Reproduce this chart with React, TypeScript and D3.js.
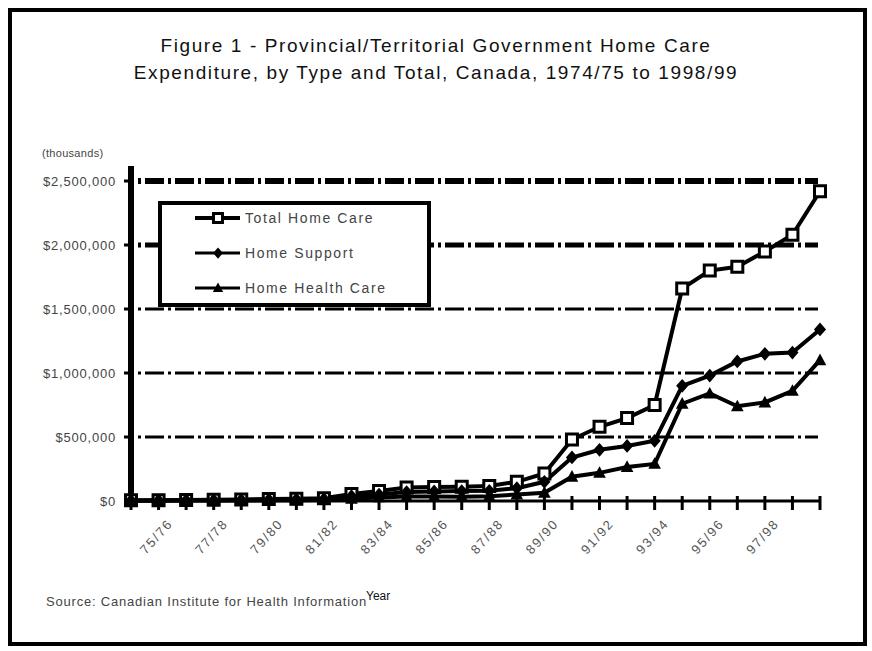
import React from "react";
import * as d3 from "d3";

// Fiscal years on the category axis (one tick per year)
const years = [
  "74/75", "75/76", "76/77", "77/78", "78/79", "79/80", "80/81", "81/82", "82/83",
  "83/84", "84/85", "85/86", "86/87", "87/88", "88/89", "89/90", "90/91", "91/92",
  "92/93", "93/94", "94/95", "95/96", "96/97", "97/98", "98/99", "99/00",
];
// Labels shown under the axis (every second year)
const yearLabels = [
  "75/76", "77/78", "79/80", "81/82", "83/84", "85/86",
  "87/88", "89/90", "91/92", "93/94", "95/96", "97/98",
];

// Expenditure, $ thousands
const totalHomeCare = [
  5, 6, 8, 10, 12, 15, 18, 22, 55, 78, 105, 110, 112, 118, 150,
  215, 480, 580, 648, 750, 1660, 1800, 1830, 1950, 2080, 2420,
];
const homeSupport = [
  3, 4, 5, 6, 8, 10, 12, 15, 38, 50, 70, 75, 78, 80, 100,
  150, 340, 400, 430, 470, 900, 980, 1090, 1150, 1160, 1340,
];
const homeHealthCare = [
  2, 2, 3, 4, 4, 5, 6, 7, 17, 28, 35, 35, 34, 38, 50,
  65, 190, 220, 266, 290, 760, 840, 740, 770, 860, 1100,
];

const yTicks = [0, 500, 1000, 1500, 2000, 2500];
const yTickLabels = ["$0", "$500,000", "$1,000,000", "$1,500,000", "$2,000,000", "$2,500,000"];
const gridWidths = [0, 3, 3, 3, 5, 6];

const W = 872;
const H = 651;
const FONT = "'Liberation Sans', Arial, sans-serif";

type Marker = "square" | "diamond" | "triangle";

function markerPath(kind: Marker, size: number): string {
  const s = size / 2;
  if (kind === "diamond") return `M0,${-s * 1.25}L${s * 1.1},0L0,${s * 1.25}L${-s * 1.1},0Z`;
  if (kind === "triangle") return `M0,${-s * 1.2}L${s * 1.15},${s * 0.9}L${-s * 1.15},${s * 0.9}Z`;
  return `M${-s},${-s}H${s}V${s}H${-s}Z`;
}

function MarkerShape({ kind, x, y, size }: { kind: Marker; x: number; y: number; size: number }) {
  if (kind === "square") {
    return (
      <path
        d={markerPath(kind, size)}
        transform={`translate(${x},${y})`}
        fill="#fff"
        stroke="#000"
        strokeWidth={3}
      />
    );
  }
  return <path d={markerPath(kind, size)} transform={`translate(${x},${y})`} fill="#000" />;
}

export default function App() {
  const x = d3.scalePoint<string>().domain(years).range([131, 820]);
  const y = d3.scaleLinear().domain([0, 2500]).range([501, 181]);

  // drawn in this order: total first, the filled markers on top of it
  const series: { name: string; values: number[]; marker: Marker }[] = [
    { name: "Total Home Care", values: totalHomeCare, marker: "square" },
    { name: "Home Support", values: homeSupport, marker: "diamond" },
    { name: "Home Health Care", values: homeHealthCare, marker: "triangle" },
  ];

  const line = d3
    .line<number>()
    .x((_, i) => x(years[i]) as number)
    .y((d) => y(d));

  const labelIdx = yearLabels.map((l) => years.indexOf(l));

  return (
    <svg
      width={W}
      height={H}
      style={{ position: "absolute", left: 0, top: 0, background: "#fff" }}
      fontFamily={FONT}
    >
      <rect x={0} y={0} width={W} height={H} fill="#fff" />
      <rect x={10} y={10} width={855} height={634} fill="none" stroke="#000" strokeWidth={4} />

      {/* Title */}
      <text x={436} y={52} textAnchor="middle" fontSize={19} letterSpacing={1.6} fill="#111">
        Figure 1  - Provincial/Territorial Government Home Care
      </text>
      <text x={436} y={79} textAnchor="middle" fontSize={19} letterSpacing={1.6} fill="#111">
        Expenditure, by Type and Total, Canada, 1974/75 to 1998/99
      </text>

      <text x={42} y={157} fontSize={11} letterSpacing={0.3} fill="#444">(thousands)</text>

      {/* Gridlines */}
      {yTicks.slice(1).map((t, i) => (
        <line
          key={t}
          x1={138}
          x2={818}
          y1={y(t)}
          y2={y(t)}
          stroke="#000"
          strokeWidth={gridWidths[i + 1]}
          strokeDasharray="3,4,19,4"
        />
      ))}

      {/* Y axis */}
      <line x1={131} x2={131} y1={166} y2={504} stroke="#000" strokeWidth={6} />
      {yTicks.map((t, i) => (
        <g key={t}>
          <line x1={124} x2={131} y1={y(t)} y2={y(t)} stroke="#000" strokeWidth={3} />
          <text x={116} y={y(t) + 5} textAnchor="end" fontSize={13} letterSpacing={0.8} fill="#444">
            {yTickLabels[i]}
          </text>
        </g>
      ))}

      {/* X axis */}
      <line x1={131} x2={821} y1={501} y2={501} stroke="#000" strokeWidth={3} />
      {years.map((c) => (
        <line key={c} x1={x(c)} x2={x(c)} y1={496} y2={510} stroke="#000" strokeWidth={3} />
      ))}
      {labelIdx.map((idx, k) => (
        <text
          key={yearLabels[k]}
          transform={`translate(${(x(years[idx]) as number) + 15},${524}) rotate(-48)`}
          textAnchor="end"
          fontSize={13}
          letterSpacing={1.8}
          fill="#555"
        >
          {yearLabels[k]}
        </text>
      ))}

      {/* Series lines */}
      {series.map((s) => (
        <path key={s.name} d={line(s.values) ?? ""} fill="none" stroke="#000" strokeWidth={4} strokeLinejoin="miter" />
      ))}
      {/* Series markers */}
      {series.map((s) => (
        <g key={s.name + "-m"}>
          {s.values.map((v, i) => (
            <MarkerShape key={i} kind={s.marker} x={x(years[i]) as number} y={y(v)} size={11} />
          ))}
        </g>
      ))}

      {/* Legend */}
      <rect x={160} y={203} width={269} height={102} fill="#fff" stroke="#000" strokeWidth={4} />
      {series.map((s, i) => {
        const ly = 218 + i * 35;
        return (
          <g key={s.name + "-lg"}>
            <line x1={195} x2={240} y1={ly} y2={ly} stroke="#000" strokeWidth={s.marker === "square" ? 4 : 3} />
            <MarkerShape kind={s.marker} x={218} y={ly} size={9} />
            <text x={245} y={ly + 5} fontSize={14} letterSpacing={1.6} fill="#444">
              {s.name}
            </text>
          </g>
        );
      })}

      {/* Footer */}
      <text x={46} y={606} fontSize={13} letterSpacing={0.8} fill="#444">
        Source: Canadian Institute for Health Information
      </text>
      <text x={366} y={600} fontSize={12} fill="#111">
        Year
      </text>
    </svg>
  );
}
